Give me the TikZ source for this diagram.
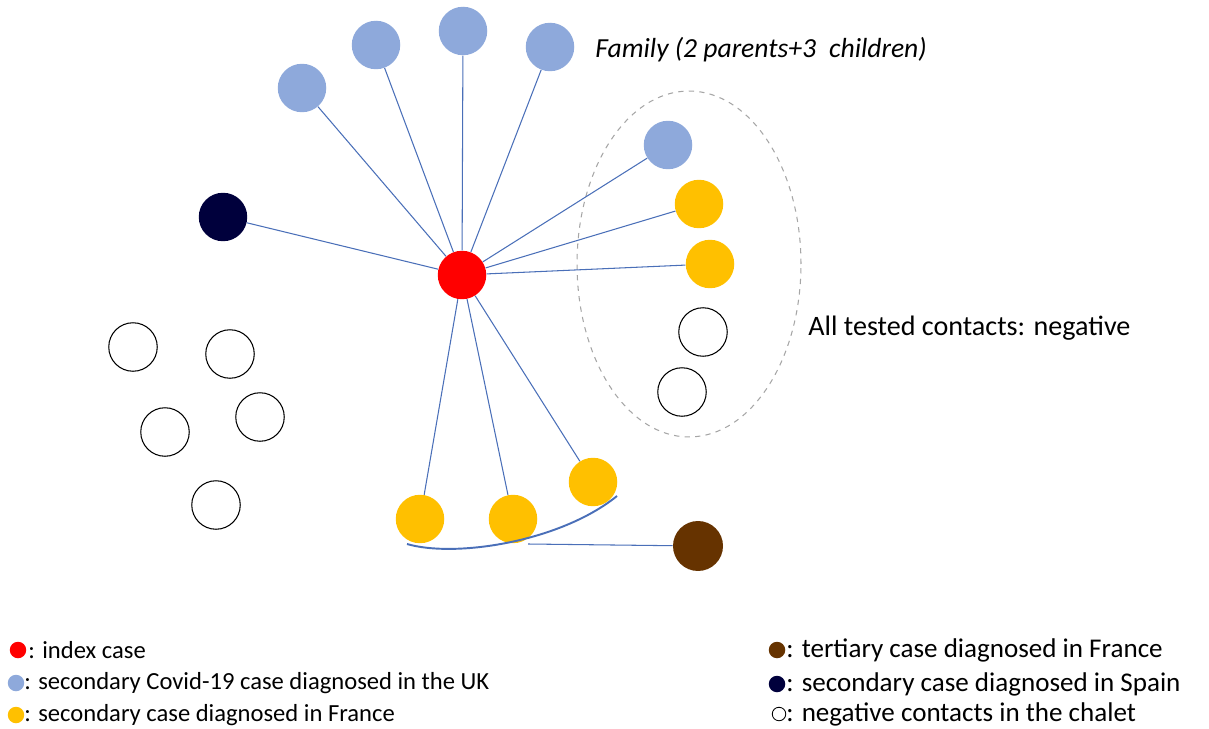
\documentclass[tikz,border=0pt]{standalone}
\usepackage{fontspec}
\setmainfont{Carlito}
\usetikzlibrary{shapes.geometric}
\definecolor{ukblue}{HTML}{8EA9DB}
\definecolor{frYellow}{HTML}{FFC000}
\definecolor{idxRed}{HTML}{FF0000}
\definecolor{esNavy}{HTML}{00003C}
\definecolor{terBrown}{HTML}{663300}
\definecolor{linkBlue}{HTML}{4A6FB8}
\begin{document}
\begin{tikzpicture}[x=0.02cm,y=-0.02cm,
  dot/.style={circle,inner sep=0pt,minimum size=0.97cm},
  ukc/.style={dot,fill=ukblue},
  frc/.style={dot,fill=frYellow},
  negc/.style={dot,draw=black,line width=0.6pt,fill=white},
  link/.style={draw=linkBlue,line width=0.6pt},
  lab/.style={anchor=west,inner sep=0pt,font=\fontsize{16}{18}\selectfont},
  leg/.style={anchor=west,inner sep=0pt,font=\fontsize{14}{16}\selectfont},
  legr/.style={anchor=west,inner sep=0pt,font=\fontsize{15.4}{18}\selectfont},
  legdot/.style={circle,inner sep=0pt,minimum size=0.33cm}]
\useasboundingbox (0,0) rectangle (1209,729);
% dashed group ellipse
\node[ellipse,draw=gray!70,dashed,line width=0.6pt,minimum width=4.48cm,minimum height=6.92cm,inner sep=0pt] (grp) at (689,264) {};
% nodes
\node[dot,fill=idxRed] (idx) at (462,275) {};
\node[ukc] (f1) at (302,88) {};
\node[ukc] (f2) at (376,45) {};
\node[ukc] (f3) at (463,31) {};
\node[ukc] (f4) at (550,47) {};
\node[dot,fill=esNavy] (es) at (223,217) {};
\node[ukc] (g1) at (668,145) {};
\node[frc] (g2) at (699,204) {};
\node[frc] (g3) at (710,264) {};
\node[negc] (g4) at (703,332) {};
\node[negc] (g5) at (682,392) {};
\node[negc] (n1) at (133,347) {};
\node[negc] (n2) at (230,354) {};
\node[negc] (n3) at (165,432) {};
\node[negc] (n4) at (260,417) {};
\node[negc] (n5) at (216,505) {};
\node[frc] (b1) at (420,519) {};
\node[frc] (b2) at (513,519) {};
\node[frc] (b3) at (593,482) {};
\node[dot,fill=terBrown,minimum size=1.0cm] (ter) at (698,546) {};
% links
\foreach \t in {f1,f2,f3,f4,es,g1,g2,g3,b1,b2,b3}
  \draw[link] (idx) -- (\t);
% curve under bottom cluster
\coordinate (c0) at (407,544);
\coordinate (c1) at (617,496);
\coordinate (cj) at (528,544);
\draw[link,line width=1.1pt] (c0) .. controls (455,558) and (560,542) .. (c1);
\draw[link] (cj) -- (ter);
% labels
\node[lab,font=\fontsize{15.7}{18}\selectfont\itshape] (famlab) at (595,50) {Family (2 parents+3\hspace{0.25em} children)};
\node[lab] (neglab) at (808,328) {All tested contacts: negative};
% legend
\node[legdot,fill=idxRed] (l1d) at (18,650) {};
\node[leg] (l1) at (28,650) {: index case};
\node[legdot,fill=ukblue] (l2d) at (16,683) {};
\node[leg] (l2) at (24,683) {: secondary Covid-19 case diagnosed in the UK};
\node[legdot,fill=frYellow] (l3d) at (16,715) {};
\node[leg] (l3) at (24,715) {: secondary case diagnosed in France};
\node[legdot,fill=terBrown] (r1d) at (777,650) {};
\node[legr] (r1) at (786,650) {: tertiary case diagnosed in France};
\node[legdot,fill=esNavy] (r2d) at (777,684) {};
\node[legr] (r2) at (786,684) {: secondary case diagnosed in Spain};
\node[legdot,draw=black,line width=0.5pt,minimum size=0.27cm] (r3d) at (779,714) {};
\node[legr] (r3) at (786,714) {: negative contacts in the chalet};
\end{tikzpicture}
\end{document}
